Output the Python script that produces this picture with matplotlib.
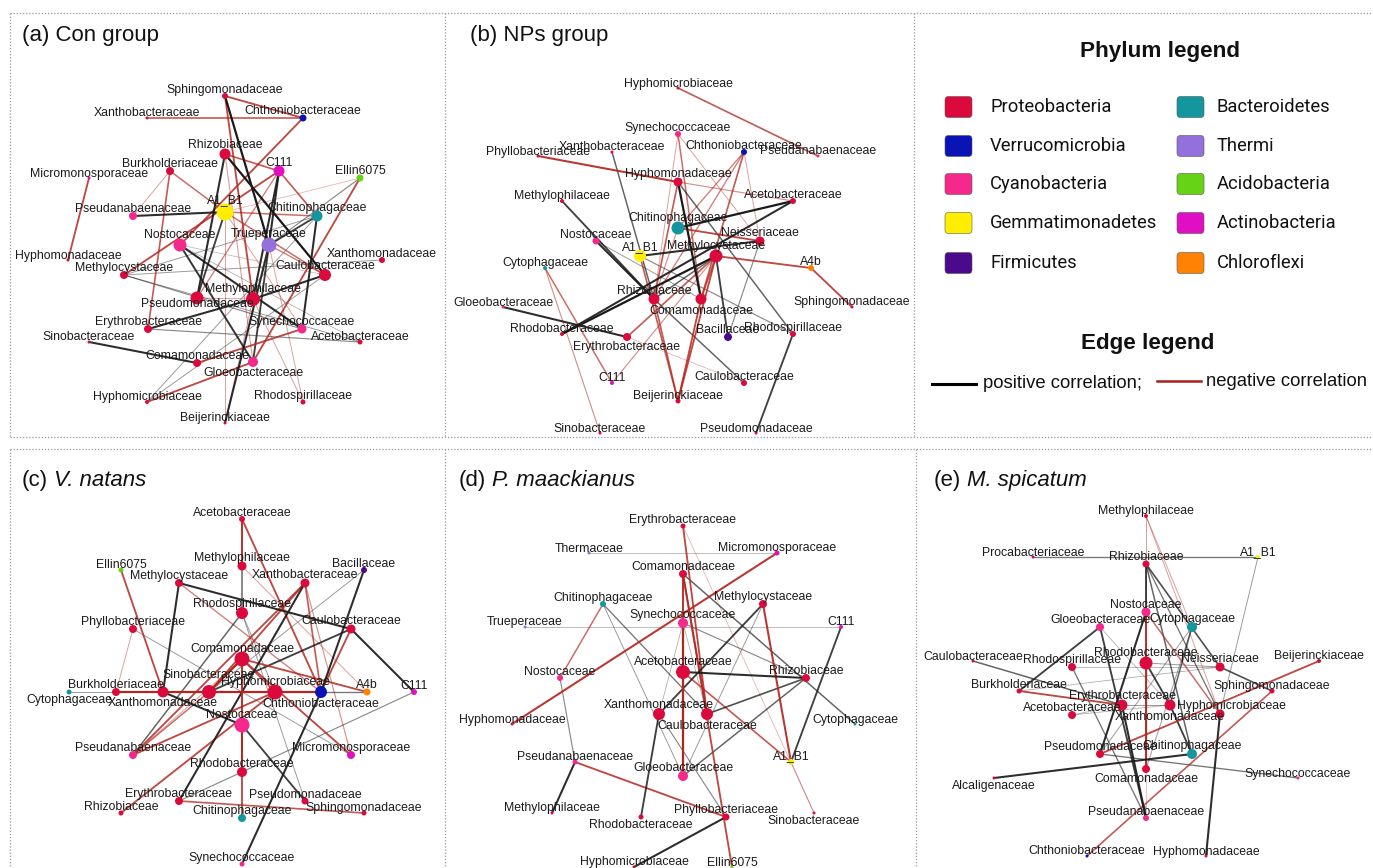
import matplotlib
matplotlib.use("Agg")
import matplotlib.pyplot as plt
from matplotlib.patches import FancyBboxPatch

plt.rcParams['font.family'] = ['Liberation Sans', 'DejaVu Sans']

# ---------------- data ----------------
PHYLA = ["Proteobacteria", "Verrucomicrobia", "Cyanobacteria", "Gemmatimonadetes", "Firmicutes",
         "Bacteroidetes", "Thermi", "Acidobacteria", "Actinobacteria", "Chloroflexi"]
PHYLUM_COLORS = ["#DC0A3C", "#0A14B4", "#F5288C", "#FFEE00", "#4B0A8C",
                 "#13969E", "#9370DB", "#66D314", "#E10FC3", "#FF8205"]

CYANO = ["Pseudanabaenaceae", "Nostocaceae", "Synechococcaceae", "Gloeobacteraceae"]
VERRUCO = ["Chthoniobacteraceae"]
GEMMA = ["A1_B1"]
FIRMI = ["Bacillaceae"]
BACTERO = ["Chitinophagaceae", "Cytophagaceae"]
THERMI = ["Trueperaceae", "Thermaceae"]
ACIDO = ["Ellin6075"]
ACTINO = ["C111", "Micromonosporaceae"]
CHLORO = ["A4b"]

# (prefix, italic part)
PANEL_TITLES = [("(a) Con group", ""), ("(b) NPs group", ""), ("(c)", "V. natans"),
                ("(d)", "P. maackianus"), ("(e)", "M. spicatum")]

# edges: (node1, node2, sign (+1 positive / -1 negative), strength 0-1)
A_EDGES = [
    ("Sphingomonadaceae", "Chthoniobacteraceae", -1, 0.8), ("Xanthobacteraceae", "Chthoniobacteraceae", -1, 0.7),
    ("Chthoniobacteraceae", "Nostocaceae", -1, 0.8), ("Sphingomonadaceae", "Trueperaceae", 1, 1.0),
    ("Sphingomonadaceae", "Methylophilaceae", -1, 0.8), ("Rhizobiaceae", "C111", -1, 0.7),
    ("Rhizobiaceae", "Caulobacteraceae", 1, 1.0), ("Rhizobiaceae", "Pseudomonadaceae", 1, 0.9),
    ("Rhizobiaceae", "Gloeobacteraceae", -1, 0.35), ("Burkholderiaceae", "A1_B1", -1, 0.6),
    ("Burkholderiaceae", "Pseudanabaenaceae", -1, 0.3), ("Burkholderiaceae", "Erythrobacteraceae", -1, 0.7),
    ("Micromonosporaceae", "Hyphomonadaceae", -1, 0.8), ("C111", "Methylocystaceae", -1, 0.8),
    ("C111", "Trueperaceae", 1, 0.9), ("C111", "Methylophilaceae", 1, 0.9),
    ("C111", "Chitinophagaceae", -1, 0.7), ("C111", "Pseudomonadaceae", -1, 0.5),
    ("Ellin6075", "Gloeobacteraceae", -1, 0.8), ("Ellin6075", "A1_B1", -1, 0.2),
    ("Ellin6075", "Trueperaceae", 1, 0.4), ("A1_B1", "Pseudanabaenaceae", 1, 0.9),
    ("A1_B1", "Chitinophagaceae", -1, 0.6), ("A1_B1", "Pseudomonadaceae", 1, 0.8),
    ("A1_B1", "Caulobacteraceae", -1, 0.6), ("A1_B1", "Beijerinckiaceae", -1, 0.3),
    ("A1_B1", "Synechococcaceae", -1, 0.3), ("Chitinophagaceae", "Trueperaceae", 1, 0.8),
    ("Chitinophagaceae", "Synechococcaceae", 1, 0.9), ("Chitinophagaceae", "Methylocystaceae", 1, 0.3),
    ("Chitinophagaceae", "Hyphomicrobiaceae", 1, 0.3), ("Trueperaceae", "Gloeobacteraceae", 1, 0.8),
    ("Trueperaceae", "Caulobacteraceae", -1, 0.5), ("Trueperaceae", "Rhodospirillaceae", -1, 0.3),
    ("Nostocaceae", "Synechococcaceae", 1, 0.9), ("Nostocaceae", "Acetobacteraceae", 1, 0.2),
    ("Nostocaceae", "Caulobacteraceae", 1, 0.15), ("Nostocaceae", "Gloeobacteraceae", 1, 0.85),
    ("Methylocystaceae", "Synechococcaceae", 1, 0.4), ("Methylocystaceae", "Acetobacteraceae", 1, 0.3),
    ("Methylocystaceae", "Xanthomonadaceae", 1, 0.3), ("Caulobacteraceae", "Methylophilaceae", 1, 0.9),
    ("Erythrobacteraceae", "Methylophilaceae", 1, 0.9), ("Erythrobacteraceae", "Acetobacteraceae", 1, 0.4),
    ("Sinobacteraceae", "Comamonadaceae", 1, 0.9), ("Comamonadaceae", "Synechococcaceae", -1, 0.8),
    ("Hyphomicrobiaceae", "Gloeobacteraceae", -1, 0.8), ("Beijerinckiaceae", "Trueperaceae", 1, 0.9),
    ("Pseudomonadaceae", "Methylophilaceae", -1, 0.3), ("Methylophilaceae", "Beijerinckiaceae", -1, 0.3),
    ("Hyphomicrobiaceae", "Caulobacteraceae", 1, 0.3), ("Rhodospirillaceae", "Methylophilaceae", -1, 0.3),
]

B_EDGES = [
    ("Hyphomicrobiaceae", "Pseudanabaenaceae", -1, 0.7), ("Phyllobacteriaceae", "Hyphomonadaceae", -1, 0.9),
    ("Xanthobacteraceae", "Rhizobiaceae", 1, 0.6), ("Synechococcaceae", "Comamonadaceae", -1, 0.6),
    ("Synechococcaceae", "Rhizobiaceae", -1, 0.3), ("Synechococcaceae", "Neisseriaceae", -1, 0.3),
    ("Chthoniobacteraceae", "Chitinophagaceae", -1, 0.5), ("Chthoniobacteraceae", "Comamonadaceae", -1, 0.7),
    ("Chthoniobacteraceae", "Neisseriaceae", -1, 0.3), ("Chthoniobacteraceae", "Rhizobiaceae", -1, 0.5),
    ("Hyphomonadaceae", "Comamonadaceae", 1, 1.0), ("Hyphomonadaceae", "Rhizobiaceae", -1, 0.7),
    ("Hyphomonadaceae", "Acetobacteraceae", -1, 0.4), ("Hyphomonadaceae", "Rhodospirillaceae", 1, 0.6),
    ("Methylophilaceae", "Rhizobiaceae", 1, 0.8), ("Acetobacteraceae", "Chitinophagaceae", 1, 1.0),
    ("Acetobacteraceae", "Rhodobacteraceae", 1, 0.9), ("Chitinophagaceae", "Neisseriaceae", -1, 0.8),
    ("Chitinophagaceae", "Rhizobiaceae", -1, 0.4), ("A1_B1", "Neisseriaceae", 1, 0.9),
    ("A1_B1", "Beijerinckiaceae", -1, 0.7), ("A1_B1", "Rhodospirillaceae", 1, 0.4),
    ("Methylocystaceae", "A4b", -1, 0.8), ("Methylocystaceae", "Rhodobacteraceae", 1, 1.0),
    ("Methylocystaceae", "Bacillaceae", 1, 0.8), ("Methylocystaceae", "Erythrobacteraceae", -1, 0.7),
    ("Methylocystaceae", "Beijerinckiaceae", -1, 0.8), ("Methylocystaceae", "Comamonadaceae", -1, 0.7),
    ("Methylocystaceae", "C111", -1, 0.4), ("Methylocystaceae", "Rhizobiaceae", 1, 0.6),
    ("A4b", "Sphingomonadaceae", -1, 0.8), ("Nostocaceae", "Rhizobiaceae", 1, 0.9),
    ("Rhizobiaceae", "Caulobacteraceae", 1, 0.6), ("Nostocaceae", "Comamonadaceae", 1, 0.3),
    ("Cytophagaceae", "C111", -1, 0.6), ("Cytophagaceae", "Sinobacteraceae", -1, 0.4),
    ("Gloeobacteraceae", "Erythrobacteraceae", 1, 0.9), ("Rhodospirillaceae", "Pseudomonadaceae", 1, 0.8),
    ("Rhizobiaceae", "Beijerinckiaceae", -1, 0.7), ("Comamonadaceae", "Beijerinckiaceae", -1, 0.8),
    ("Erythrobacteraceae", "Caulobacteraceae", -1, 0.2), ("Neisseriaceae", "Bacillaceae", 1, 0.4),
]

C_EDGES = [
    ("Acetobacteraceae", "Methylophilaceae", -1, 0.9), ("Acetobacteraceae", "Chthoniobacteraceae", -1, 0.8),
    ("Methylophilaceae", "Rhodospirillaceae", 1, 0.6), ("Methylophilaceae", "A4b", -1, 0.3),
    ("Ellin6075", "Xanthomonadaceae", -1, 0.8), ("Bacillaceae", "Chthoniobacteraceae", 1, 0.9),
    ("Bacillaceae", "Sinobacteraceae", 1, 0.3), ("Methylocystaceae", "Xanthomonadaceae", 1, 0.9),
    ("Methylocystaceae", "Caulobacteraceae", 1, 0.9), ("Methylocystaceae", "Chthoniobacteraceae", -1, 0.5),
    ("Xanthobacteraceae", "Sinobacteraceae", -1, 0.8), ("Xanthobacteraceae", "Chthoniobacteraceae", -1, 0.7),
    ("Xanthobacteraceae", "Erythrobacteraceae", 1, 0.9), ("Xanthobacteraceae", "Pseudanabaenaceae", -1, 0.8),
    ("Xanthobacteraceae", "Micromonosporaceae", -1, 0.4), ("Rhodospirillaceae", "Hyphomicrobiaceae", 1, 0.3),
    ("Rhodospirillaceae", "Pseudanabaenaceae", 1, 0.6), ("Rhodospirillaceae", "Pseudomonadaceae", 1, 0.3),
    ("Phyllobacteriaceae", "Burkholderiaceae", -1, 0.3), ("Phyllobacteriaceae", "Micromonosporaceae", 1, 0.3),
    ("Caulobacteraceae", "C111", 1, 0.9), ("Caulobacteraceae", "Chthoniobacteraceae", -1, 0.8),
    ("Caulobacteraceae", "Sinobacteraceae", 1, 0.8), ("Comamonadaceae", "Sinobacteraceae", -1, 1.0),
    ("Comamonadaceae", "Hyphomicrobiaceae", -1, 0.7), ("Comamonadaceae", "A4b", -1, 0.8),
    ("Comamonadaceae", "Micromonosporaceae", -1, 0.8), ("Comamonadaceae", "Rhodobacteraceae", -1, 0.9),
    ("Comamonadaceae", "Pseudanabaenaceae", -1, 0.3), ("Cytophagaceae", "Burkholderiaceae", 1, 0.3),
    ("Burkholderiaceae", "Chthoniobacteraceae", -1, 1.0), ("Xanthomonadaceae", "Nostocaceae", 1, 0.9),
    ("Sinobacteraceae", "Pseudanabaenaceae", -1, 0.6), ("Hyphomicrobiaceae", "Pseudanabaenaceae", -1, 0.8),
    ("Chthoniobacteraceae", "A4b", 1, 0.5), ("Chthoniobacteraceae", "Synechococcaceae", 1, 0.9),
    ("C111", "Rhodobacteraceae", 1, 0.4), ("Nostocaceae", "Pseudomonadaceae", 1, 0.8),
    ("Nostocaceae", "Chitinophagaceae", -1, 0.8), ("Rhodobacteraceae", "Erythrobacteraceae", 1, 0.4),
    ("Erythrobacteraceae", "Sphingomonadaceae", -1, 0.7), ("Rhizobiaceae", "Hyphomicrobiaceae", -1, 0.8),
]

D_EDGES = [
    ("Thermaceae", "Micromonosporaceae", 1, 0.2), ("Trueperaceae", "C111", 1, 0.2),
    ("Micromonosporaceae", "Hyphomonadaceae", -1, 0.9), ("Erythrobacteraceae", "Caulobacteraceae", -1, 0.8),
    ("Erythrobacteraceae", "Sinobacteraceae", -1, 0.2), ("Comamonadaceae", "Gloeobacteraceae", -1, 0.9),
    ("Comamonadaceae", "Caulobacteraceae", -1, 0.8), ("Comamonadaceae", "Ellin6075", -1, 0.8),
    ("Comamonadaceae", "Cytophagaceae", 1, 0.6), ("Chitinophagaceae", "Nostocaceae", -1, 0.6),
    ("Chitinophagaceae", "Caulobacteraceae", 1, 0.5), ("Chitinophagaceae", "Gloeobacteraceae", 1, 0.3),
    ("Methylocystaceae", "A1_B1", -1, 0.9), ("Methylocystaceae", "Xanthomonadaceae", 1, 0.8),
    ("Methylocystaceae", "Gloeobacteraceae", 1, 0.3), ("Synechococcaceae", "Gloeobacteraceae", -1, 1.0),
    ("Synechococcaceae", "Rhizobiaceae", 1, 0.4), ("Acetobacteraceae", "Rhizobiaceae", 1, 0.9),
    ("Acetobacteraceae", "A1_B1", -1, 0.7), ("Rhizobiaceae", "Caulobacteraceae", 1, 0.7),
    ("Rhizobiaceae", "Gloeobacteraceae", 1, 0.6), ("C111", "A1_B1", 1, 0.8),
    ("Nostocaceae", "Pseudanabaenaceae", 1, 0.4), ("Pseudanabaenaceae", "Methylophilaceae", 1, 0.9),
    ("Pseudanabaenaceae", "Phyllobacteriaceae", -1, 0.8), ("Xanthomonadaceae", "Rhodobacteraceae", 1, 0.8),
    ("Xanthomonadaceae", "Phyllobacteriaceae", 1, 0.4), ("Phyllobacteriaceae", "Hyphomicrobiaceae", 1, 0.9),
    ("A1_B1", "Sinobacteraceae", -1, 0.3), ("Synechococcaceae", "Xanthomonadaceae", 1, 0.2),
    ("Caulobacteraceae", "Synechococcaceae", 1, 0.2),
]

E_EDGES = [
    ("Methylophilaceae", "Nostocaceae", -1, 0.3), ("Methylophilaceae", "Cytophagaceae", -1, 0.3),
    ("Procabacteriaceae", "A1_B1", 1, 0.5), ("A1_B1", "Xanthomonadaceae", 1, 0.3),
    ("Rhizobiaceae", "Nostocaceae", 1, 0.8), ("Rhizobiaceae", "Neisseriaceae", 1, 0.7),
    ("Rhizobiaceae", "Chitinophagaceae", 1, 0.6), ("Rhizobiaceae", "Xanthomonadaceae", 1, 0.5),
    ("Nostocaceae", "Pseudomonadaceae", 1, 0.9), ("Nostocaceae", "Comamonadaceae", -1, 0.9),
    ("Nostocaceae", "Xanthomonadaceae", -1, 0.6), ("Nostocaceae", "Pseudanabaenaceae", -1, 0.2),
    ("Gloeobacteraceae", "Pseudanabaenaceae", 1, 0.8), ("Gloeobacteraceae", "Burkholderiaceae", 1, 0.8),
    ("Gloeobacteraceae", "Hyphomicrobiaceae", 1, 0.2), ("Cytophagaceae", "Hyphomicrobiaceae", 1, 0.6),
    ("Cytophagaceae", "Comamonadaceae", 1, 0.3), ("Cytophagaceae", "Pseudomonadaceae", 1, 0.3),
    ("Rhodobacteraceae", "Hyphomicrobiaceae", 1, 0.8), ("Rhodobacteraceae", "Neisseriaceae", 1, 0.3),
    ("Hyphomicrobiaceae", "Chitinophagaceae", 1, 0.8), ("Neisseriaceae", "Sphingomonadaceae", 1, 0.7),
    ("Neisseriaceae", "Burkholderiaceae", 1, 0.2), ("Caulobacteraceae", "Erythrobacteraceae", 1, 0.6),
    ("Beijerinckiaceae", "Pseudomonadaceae", -1, 0.8), ("Burkholderiaceae", "Erythrobacteraceae", -1, 0.8),
    ("Sphingomonadaceae", "Chthoniobacteraceae", -1, 0.7), ("Erythrobacteraceae", "Pseudanabaenaceae", 1, 0.9),
    ("Erythrobacteraceae", "Hyphomicrobiaceae", 1, 0.3), ("Xanthomonadaceae", "Hyphomonadaceae", 1, 0.9),
    ("Pseudomonadaceae", "Synechococcaceae", 1, 0.5), ("Alcaligenaceae", "Chitinophagaceae", 1, 0.9),
    ("Rhodospirillaceae", "Pseudanabaenaceae", 1, 0.5), ("Rhodospirillaceae", "Neisseriaceae", 1, 0.2),
    ("Acetobacteraceae", "Erythrobacteraceae", 1, 0.2), ("Acetobacteraceae", "Hyphomicrobiaceae", 1, 0.2),
    ("Rhodobacteraceae", "Comamonadaceae", -1, 0.5), ("Methylophilaceae", "Xanthomonadaceae", -1, 0.3),
]

# ---------------- layout (pixel positions, node diameter, label placement) ----------------
# label: None = above, 'b' = below, (dx, dy) = custom baseline offset
A_LAYOUT = {
    "Sphingomonadaceae": (225, 96, 6, None), "Chthoniobacteraceae": (303, 118, 7, None),
    "Xanthobacteraceae": (147, 118, 3, None), "Rhizobiaceae": (225, 154, 11, None),
    "Burkholderiaceae": (170, 171, 8, None), "C111": (279, 171, 11, None),
    "Ellin6075": (360, 178, 7, None), "Micromonosporaceae": (89, 178, 3, None),
    "A1_B1": (225, 212, 17, None), "Pseudanabaenaceae": (133, 216, 8, None),
    "Chitinophagaceae": (317, 216, 11, None), "Nostocaceae": (180, 245, 13, None),
    "Trueperaceae": (269, 245, 15, None), "Hyphomonadaceae": (68, 260, 3, None),
    "Xanthomonadaceae": (382, 260, 6, None), "Methylocystaceae": (124, 275, 8, None),
    "Caulobacteraceae": (325, 275, 12, None), "Pseudomonadaceae": (197, 298, 13, (0, 9)),
    "Methylophilaceae": (253, 299, 14, None), "Erythrobacteraceae": (148, 329, 8, None),
    "Synechococcaceae": (302, 329, 9, None), "Sinobacteraceae": (89, 342, 3, None),
    "Acetobacteraceae": (360, 342, 5, None), "Comamonadaceae": (197, 363, 8, None),
    "Gloeobacteraceae": (253, 362, 10, 'b'), "Hyphomicrobiaceae": (147, 402, 4, None),
    "Rhodospirillaceae": (303, 402, 5, None), "Beijerinckiaceae": (225, 423, 3, None),
}
B_LAYOUT = {
    "Hyphomicrobiaceae": (678, 88, 3, None), "Synechococcaceae": (678, 134, 6, None),
    "Xanthobacteraceae": (612, 152, 3, None), "Phyllobacteriaceae": (538, 156, 3, None),
    "Chthoniobacteraceae": (744, 152, 6, None), "Pseudanabaenaceae": (818, 156, 3, None),
    "Hyphomonadaceae": (678, 182, 9, None), "Methylophilaceae": (562, 201, 4, None),
    "Acetobacteraceae": (793, 201, 6, None), "Chitinophagaceae": (678, 228, 13, None),
    "Nostocaceae": (596, 241, 7, None), "Neisseriaceae": (760, 241, 9, None),
    "A1_B1": (640, 256, 12, None), "Methylocystaceae": (716, 256, 13, None),
    "Cytophagaceae": (545, 268, 4, None), "A4b": (811, 268, 6, None),
    "Rhizobiaceae": (654, 299, 11, None), "Comamonadaceae": (701, 299, 11, 'b'),
    "Gloeobacteraceae": (503, 307, 3, None), "Sphingomonadaceae": (852, 307, 3, None),
    "Rhodobacteraceae": (562, 334, 4, None), "Erythrobacteraceae": (627, 337, 8, 'b'),
    "Bacillaceae": (728, 337, 8, None), "Rhodospirillaceae": (793, 334, 6, None),
    "C111": (612, 383, 4, None), "Caulobacteraceae": (744, 383, 6, None),
    "Beijerinckiaceae": (678, 401, 5, None), "Sinobacteraceae": (600, 433, 3, None),
    "Pseudomonadaceae": (756, 433, 3, None),
}
C_LAYOUT = {
    "Acetobacteraceae": (242, 519, 6, None), "Methylophilaceae": (242, 566, 9, None),
    "Ellin6075": (121, 570, 5, None), "Bacillaceae": (364, 570, 6, None),
    "Methylocystaceae": (179, 583, 8, None), "Xanthobacteraceae": (305, 583, 9, None),
    "Rhodospirillaceae": (242, 613, 12, None), "Phyllobacteriaceae": (133, 629, 8, None),
    "Caulobacteraceae": (351, 629, 9, None), "Comamonadaceae": (242, 659, 15, None),
    "Cytophagaceae": (69, 692, 5, 'b'), "Burkholderiaceae": (116, 692, 8, None),
    "Xanthomonadaceae": (163, 692, 11, 'b'), "Sinobacteraceae": (209, 692, 14, (0, -14)),
    "Hyphomicrobiaceae": (275, 692, 15, None), "Chthoniobacteraceae": (321, 692, 12, 'b'),
    "A4b": (367, 692, 7, None), "C111": (414, 692, 6, None),
    "Nostocaceae": (242, 725, 15, None), "Pseudanabaenaceae": (133, 755, 8, None),
    "Micromonosporaceae": (351, 755, 8, None), "Rhodobacteraceae": (242, 772, 10, None),
    "Erythrobacteraceae": (179, 801, 8, None), "Pseudomonadaceae": (305, 801, 7, None),
    "Rhizobiaceae": (121, 813, 5, None), "Sphingomonadaceae": (364, 813, 5, None),
    "Chitinophagaceae": (242, 818, 8, None), "Synechococcaceae": (242, 864, 5, None),
}
D_LAYOUT = {
    "Erythrobacteraceae": (683, 526, 5, None), "Thermaceae": (589, 553, 3, None),
    "Micromonosporaceae": (777, 553, 5, None), "Comamonadaceae": (683, 574, 8, None),
    "Chitinophagaceae": (603, 604, 6, None), "Methylocystaceae": (763, 604, 8, None),
    "Synechococcaceae": (683, 623, 10, None), "Trueperaceae": (525, 627, 3, None),
    "C111": (841, 627, 4, None), "Nostocaceae": (560, 678, 6, None),
    "Acetobacteraceae": (683, 672, 14, None), "Rhizobiaceae": (806, 678, 8, None),
    "Xanthomonadaceae": (659, 714, 12, None), "Caulobacteraceae": (707, 714, 12, 'b'),
    "Hyphomonadaceae": (512, 724, 3, None), "Cytophagaceae": (855, 724, 3, None),
    "A1_B1": (791, 762, 6, None), "Pseudanabaenaceae": (575, 762, 5, None),
    "Gloeobacteraceae": (683, 776, 10, None), "Methylophilaceae": (552, 813, 3, None),
    "Rhodobacteraceae": (641, 817, 5, 'b'), "Phyllobacteriaceae": (726, 817, 7, None),
    "Sinobacteraceae": (814, 813, 3, 'b'), "Hyphomicrobiaceae": (634, 867, 3, None),
    "Ellin6075": (732, 867, 3, None),
}
E_LAYOUT = {
    "Methylophilaceae": (1146, 516, 4, None), "Procabacteriaceae": (1033, 557, 3, None),
    "Rhizobiaceae": (1146, 564, 7, None), "A1_B1": (1258, 557, 4, None),
    "Nostocaceae": (1146, 612, 9, None), "Gloeobacteraceae": (1100, 627, 8, None),
    "Cytophagaceae": (1192, 627, 10, None), "Rhodobacteraceae": (1146, 663, 13, None),
    "Rhodospirillaceae": (1072, 667, 8, None), "Neisseriaceae": (1220, 667, 9, None),
    "Caulobacteraceae": (973, 661, 3, None), "Beijerinckiaceae": (1319, 661, 4, None),
    "Burkholderiaceae": (1019, 691, 5, None), "Sphingomonadaceae": (1272, 691, 5, None),
    "Erythrobacteraceae": (1122, 705, 11, None), "Hyphomicrobiaceae": (1170, 705, 11, (61, 4)),
    "Acetobacteraceae": (1072, 715, 8, None), "Xanthomonadaceae": (1220, 714, 9, (-50, 6)),
    "Pseudomonadaceae": (1100, 754, 8, None), "Chitinophagaceae": (1192, 754, 10, None),
    "Comamonadaceae": (1146, 769, 8, 'b'), "Alcaligenaceae": (994, 778, 3, 'b'),
    "Synechococcaceae": (1298, 778, 3, None), "Pseudanabaenaceae": (1146, 818, 6, None),
    "Chthoniobacteraceae": (1087, 856, 3, None), "Hyphomonadaceae": (1206, 856, 3, None),
}

TITLE_POS = [(22, 41), (470, 41), (22, 486), (459, 486), (934, 486)]

# ---------------- drawing ----------------
W, H = 1373, 868
fig = plt.figure(figsize=(W / 100, H / 100), dpi=100)
ax = fig.add_axes([0, 0, 1, 1])
ax.set_xlim(0, W)
ax.set_ylim(H, 0)
ax.axis('off')


def phylum_color(name):
    groups = [(VERRUCO, 1), (CYANO, 2), (GEMMA, 3), (FIRMI, 4), (BACTERO, 5),
              (THERMI, 6), (ACIDO, 7), (ACTINO, 8), (CHLORO, 9)]
    for g, i in groups:
        if name in g:
            return PHYLUM_COLORS[i]
    return PHYLUM_COLORS[0]


POS_COLOR = "#1a1a1a"
NEG_COLOR = "#b3261e"
LABEL_FS = 8.8


def draw_network(layout, edges):
    for a, b, sign, w in sorted(edges, key=lambda e: e[3]):
        xa, ya = layout[a][:2]
        xb, yb = layout[b][:2]
        ax.plot([xa, xb], [ya, yb], color=POS_COLOR if sign > 0 else NEG_COLOR,
                lw=0.3 + 1.3 * w, alpha=0.2 + 0.8 * w, solid_capstyle='round', zorder=2)
    names = list(layout.keys())
    xs = [layout[n][0] for n in names]
    ys = [layout[n][1] for n in names]
    ss = [(layout[n][2] * 0.72) ** 2 for n in names]
    cs = [phylum_color(n) for n in names]
    ax.scatter(xs, ys, s=ss, c=cs, linewidths=0, zorder=3)
    for n in names:
        x, y, d, lab = layout[n]
        if lab is None:
            ax.text(x, y - d / 2, n, ha='center', va='baseline', fontsize=LABEL_FS,
                    color='#1a1a1a', zorder=4)
        elif lab == 'b':
            ax.text(x, y + d / 2, n, ha='center', va='top', fontsize=LABEL_FS,
                    color='#1a1a1a', zorder=4)
        else:
            ax.text(x + lab[0], y + lab[1], n, ha='center', va='baseline', fontsize=LABEL_FS,
                    color='#1a1a1a', zorder=4)


for lay, ed in [(A_LAYOUT, A_EDGES), (B_LAYOUT, B_EDGES), (C_LAYOUT, C_EDGES),
                (D_LAYOUT, D_EDGES), (E_LAYOUT, E_EDGES)]:
    draw_network(lay, ed)

# panel titles (regular prefix + italic species name)
title_texts = []
for (tx, ty), (pre, ital) in zip(TITLE_POS, PANEL_TITLES):
    t = ax.text(tx, ty, pre, ha='left', va='baseline', fontsize=16, color='#111111', zorder=5)
    title_texts.append((t, ty, ital))
fig.canvas.draw()
renderer = fig.canvas.get_renderer()
inv = ax.transData.inverted()
space_px = 16 * 100 / 72 * 0.278
for t, ty, ital in title_texts:
    if ital:
        bb = t.get_window_extent(renderer)
        x1 = inv.transform((bb.x1, bb.y0))[0]
        ax.text(x1 + space_px, ty, ital, ha='left', va='baseline', fontsize=16,
                fontstyle='italic', color='#111111', zorder=5)

# dotted panel frames
frame_kw = dict(color='#9a9a9a', lw=0.9, ls=(0, (1, 1.5)), zorder=1)
ax.plot([10, W], [13, 13], **frame_kw)
ax.plot([10, W], [437, 437], **frame_kw)
ax.plot([10, W], [449, 449], **frame_kw)
ax.plot([10, 10], [13, 437], **frame_kw)
ax.plot([445, 445], [13, 437], **frame_kw)
ax.plot([914, 914], [13, 437], **frame_kw)
ax.plot([10, 10], [449, H], **frame_kw)
ax.plot([445, 445], [449, H], **frame_kw)
ax.plot([916, 916], [449, H], **frame_kw)

# phylum legend
ax.text(1160, 52, "Phylum legend", ha='center', va='center', fontsize=16.2,
        fontweight='bold', color='#111111')
rows_y = [107, 146, 184, 223, 263]
for i, (name, col) in enumerate(zip(PHYLA, PHYLUM_COLORS)):
    colx = 945 if i < 5 else 1177
    tx = 990 if i < 5 else 1217
    cy = rows_y[i % 5]
    box = FancyBboxPatch((colx, cy - 10.5), 27, 21, boxstyle="round,pad=0,rounding_size=3.5",
                         facecolor=col, edgecolor='#555555', linewidth=0.4, zorder=3)
    ax.add_patch(box)
    ax.text(tx, cy, name, ha='left', va='center', fontsize=13.2, color='#111111',
            family=['Roboto', 'DejaVu Sans'])

# edge legend
ax.text(1148, 343, "Edge legend", ha='center', va='center', fontsize=16.2,
        fontweight='bold', color='#111111')
ax.plot([932, 976], [384, 384], color='black', lw=2.2)
ax.text(983, 384, "positive correlation;", ha='left', va='center', fontsize=13.3, color='#111111')
ax.plot([1157, 1201], [381, 381], color='#a8201a', lw=1.8)
ax.text(1206, 381, "negative correlation", ha='left', va='center', fontsize=13.3, color='#111111')

fig.savefig("out.png", dpi=100)
